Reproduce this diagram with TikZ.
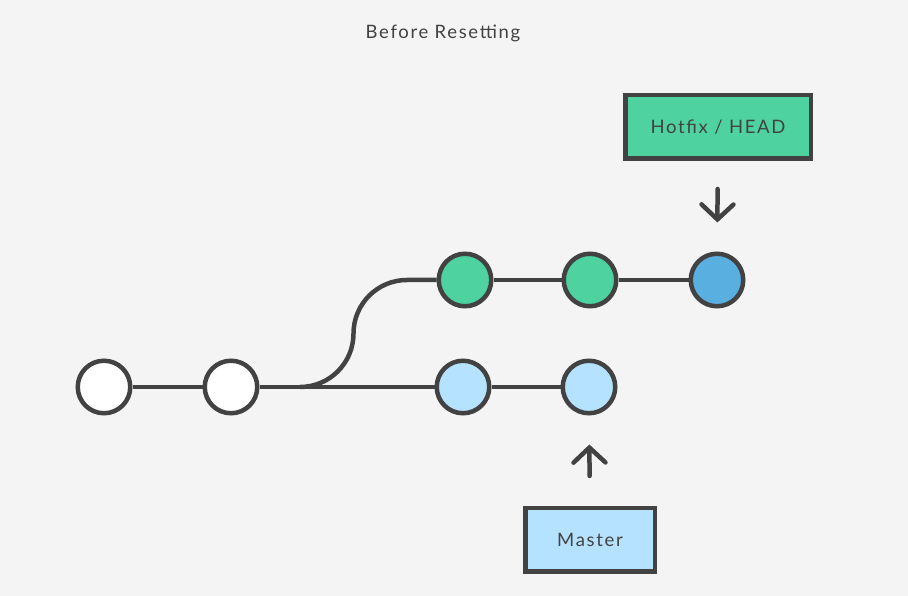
\documentclass[tikz,border=0pt]{standalone}
\usepackage{fontspec}
\setmainfont{Lato}[LetterSpace=9]
\usetikzlibrary{arrows.meta}
\definecolor{bg}{HTML}{F4F4F4}
\definecolor{ink}{HTML}{424242}
\definecolor{gitgreen}{HTML}{4DD2A0}
\definecolor{gitblue}{HTML}{5AAFE1}
\definecolor{gitlight}{HTML}{B5E2FE}
\begin{document}
\begin{tikzpicture}[x=1pt,y=1pt,
  commit/.style={circle,draw=ink,line width=4.5pt,minimum size=52.5pt,inner sep=0pt},
  branchbox/.style={rectangle,draw=ink,line width=4.5pt,minimum height=63.5pt,inner sep=0pt,text=ink,font=\fontsize{18.5}{22}\selectfont},
  edge/.style={draw=ink,line width=4.5pt},
  pointer/.style={draw=ink,line width=4.5pt,line cap=round,-{Straight Barb[length=15pt,width=32pt,line cap=round]}}
]
\fill[bg] (0,0) rectangle (908,596);
\useasboundingbox (0,0) rectangle (908,596);
\node[text=ink,font=\fontsize{18.5}{22}\selectfont] (title) at (443,563) {Before Resetting};
\node[commit,fill=white] (w1) at (104,209) {};
\node[commit,fill=white] (w2) at (231,209) {};
\node[commit,fill=gitlight] (l1) at (463,209) {};
\node[commit,fill=gitlight] (l2) at (589,209) {};
\node[commit,fill=gitgreen] (g1) at (465,316) {};
\node[commit,fill=gitgreen] (g2) at (590,316) {};
\node[commit,fill=gitblue] (h) at (717,316) {};
\node[branchbox,fill=gitgreen,minimum width=185.5pt] (hotfix) at (718,469) {Hotfix / HEAD};
\node[branchbox,fill=gitlight,minimum width=129.5pt] (master) at (590,56) {Master};
\coordinate (br) at (300,209);
\draw[edge] (w1) -- (w2);
\draw[edge] (w2) -- (l1);
\draw[edge] (l1) -- (l2);
\draw[edge] (br) arc[start angle=-90,end angle=0,radius=53.5] arc[start angle=180,end angle=90,radius=53.5] -- (g1);
\draw[edge] (g1) -- (g2);
\draw[edge] (g2) -- (h);
\draw[pointer,shorten <=28pt,shorten >=29pt] (hotfix) -- (h);
\draw[pointer,shorten <=30pt,shorten >=29pt] (master) -- (l2);
\end{tikzpicture}
\end{document}
